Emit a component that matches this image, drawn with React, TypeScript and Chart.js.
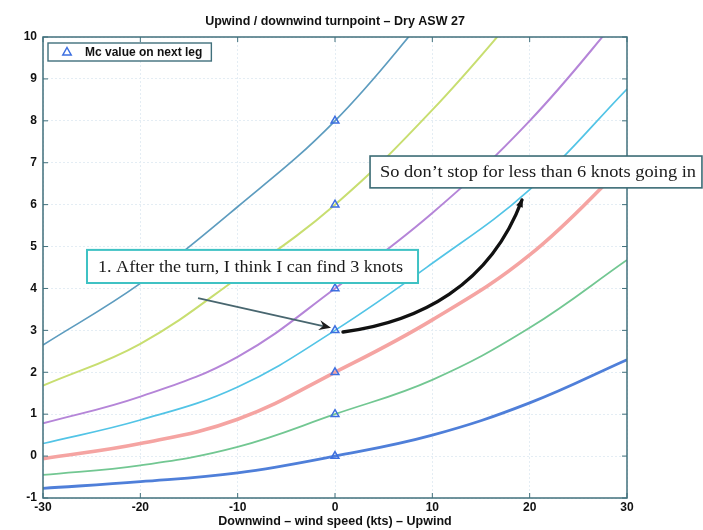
import { useEffect, useRef } from "react";
import { Chart, registerables } from "chart.js";

Chart.register(...registerables);

// ---- data ----
const windSpeeds = [-30, -20, -10, 0, 10, 20, 30];
const mcNextLeg = [0, 1, 2, 3, 4, 6, 8];
const curveMc0 = [-0.77, -0.61, -0.4, 0, 0.5, 1.27, 2.3];
const curveMc1 = [-0.45, -0.22, 0.22, 1, 1.82, 3.06, 4.68];
const curveMc2 = [-0.06, 0.3, 0.88, 2, 3.25, 4.8, 7.0];
const curveMc3 = [0.3, 0.86, 1.65, 3, 4.6, 6.36, 8.76];
const curveMc4 = [0.78, 1.42, 2.37, 4, 5.8, 8.0, 10.7];
const curveMc6 = [1.68, 2.68, 4.25, 6, 8.26, 10.9];
const curveMc8 = [2.65, 4.12, 5.95, 8, 10.67];

const titleText = "Upwind / downwind turnpoint \u2013 Dry ASW 27";
const xAxisTitle = "Downwind \u2013 wind speed (kts) \u2013 Upwind";
const legendLabel = "Mc value on next leg";
const note1Text = "1. After the turn, I think I can find 3 knots";
const note2Text = "So don\u2019t stop for less than 6 knots going in";

// ---- styles / annotation placement (data coordinates) ----
const curveStyles = [
  { data: curveMc0, color: "#4f7fd9", width: 2.8 },
  { data: curveMc1, color: "#72c792", width: 1.8 },
  { data: curveMc2, color: "#f5a4a2", width: 3.6 },
  { data: curveMc3, color: "#52c4e6", width: 1.7 },
  { data: curveMc4, color: "#b585d8", width: 2.0 },
  { data: curveMc6, color: "#c8de70", width: 2.0 },
  { data: curveMc8, color: "#5d9cbf", width: 1.7 },
];
const FRAME = "#41707c";
const MARKER = "#3d6fe0";
const annot = {
  box1: { x0: -25.48, y0: 4.92, x1: 8.53, y1: 4.13, border: "#3fc2c4", bw: 2, textW: 305, pad: 11 },
  box2: { x0: 3.6, y0: 7.16, x1: 37.7, y1: 6.4, border: "#3b6b75", bw: 1.6, textW: 316, pad: 10 },
  arrow1: { x0: -14.07, y0: 3.77, x1: -0.41, y1: 3.06 },
  arrow2: { p0: [0.82, 2.96], c1: [8.73, 3.2], c2: [15.93, 4.08], p3: [19.21, 6.11] },
};

const overlayPlugin = {
  id: "overlay",
  afterDatasetsDraw(chart: any) {
    const { ctx, chartArea: a, scales } = chart;
    const xs = scales.x;
    const ys = scales.y;
    const px = (v: number) => xs.getPixelForValue(v);
    const py = (v: number) => ys.getPixelForValue(v);
    ctx.save();

    // frame
    ctx.strokeStyle = FRAME;
    ctx.lineWidth = 1.5;
    ctx.strokeRect(a.left, a.top, a.right - a.left, a.bottom - a.top);
    // inward ticks
    ctx.lineWidth = 1;
    ctx.beginPath();
    xs.ticks.forEach((t: any) => {
      const p = px(t.value);
      ctx.moveTo(p, a.bottom);
      ctx.lineTo(p, a.bottom - 5);
      ctx.moveTo(p, a.top);
      ctx.lineTo(p, a.top + 5);
    });
    ys.ticks.forEach((t: any) => {
      const p = py(t.value);
      ctx.moveTo(a.left, p);
      ctx.lineTo(a.left + 5, p);
      ctx.moveTo(a.right, p);
      ctx.lineTo(a.right - 5, p);
    });
    ctx.stroke();

    // title
    ctx.fillStyle = "#111";
    ctx.font = 'bold 12.5px "Liberation Sans", Arial, sans-serif';
    ctx.textAlign = "center";
    ctx.textBaseline = "middle";
    ctx.fillText(titleText, (a.left + a.right) / 2, a.top - 15);

    // legend
    const lx = a.left + 5;
    const ly = a.top + 6;
    ctx.font = 'bold 12px "Liberation Sans", Arial, sans-serif';
    const tw = ctx.measureText(legendLabel).width;
    const lw = 46 + tw;
    const lh = 18;
    ctx.fillStyle = "#fff";
    ctx.fillRect(lx, ly, lw, lh);
    ctx.strokeStyle = FRAME;
    ctx.lineWidth = 1.4;
    ctx.strokeRect(lx, ly, lw, lh);
    const tx = lx + 19;
    const ty = ly + lh / 2;
    ctx.beginPath();
    ctx.moveTo(tx, ty - 4.5);
    ctx.lineTo(tx + 4.2, ty + 3);
    ctx.lineTo(tx - 4.2, ty + 3);
    ctx.closePath();
    ctx.strokeStyle = MARKER;
    ctx.lineWidth = 1.5;
    ctx.stroke();
    ctx.fillStyle = "#111";
    ctx.textAlign = "left";
    ctx.fillText(legendLabel, lx + 37, ty + 0.5);

    // arrow 1
    {
      const x0 = px(annot.arrow1.x0), y0 = py(annot.arrow1.y0);
      const x1 = px(annot.arrow1.x1), y1 = py(annot.arrow1.y1);
      const ang = Math.atan2(y1 - y0, x1 - x0);
      ctx.strokeStyle = "#48666f";
      ctx.lineWidth = 1.8;
      ctx.beginPath();
      ctx.moveTo(x0, y0);
      ctx.lineTo(x1 - 8 * Math.cos(ang), y1 - 8 * Math.sin(ang));
      ctx.stroke();
      ctx.fillStyle = "#1c1c1c";
      ctx.beginPath();
      ctx.moveTo(x1, y1);
      ctx.lineTo(x1 - 12 * Math.cos(ang) + 5 * Math.sin(ang), y1 - 12 * Math.sin(ang) - 5 * Math.cos(ang));
      ctx.lineTo(x1 - 8 * Math.cos(ang), y1 - 8 * Math.sin(ang));
      ctx.lineTo(x1 - 12 * Math.cos(ang) - 5 * Math.sin(ang), y1 - 12 * Math.sin(ang) + 5 * Math.cos(ang));
      ctx.closePath();
      ctx.fill();
    }
    // arrow 2 (curved)
    {
      const A = annot.arrow2;
      const p0 = [px(A.p0[0]), py(A.p0[1])];
      const c1 = [px(A.c1[0]), py(A.c1[1])];
      const c2 = [px(A.c2[0]), py(A.c2[1])];
      const p3 = [px(A.p3[0]), py(A.p3[1])];
      ctx.strokeStyle = "#111";
      ctx.lineWidth = 3.4;
      ctx.lineCap = "round";
      ctx.beginPath();
      ctx.moveTo(p0[0], p0[1]);
      ctx.bezierCurveTo(c1[0], c1[1], c2[0], c2[1], p3[0], p3[1]);
      ctx.stroke();
      const ang = Math.atan2(p3[1] - c2[1], p3[0] - c2[0]);
      ctx.fillStyle = "#111";
      ctx.beginPath();
      ctx.moveTo(p3[0] + 2 * Math.cos(ang), p3[1] + 2 * Math.sin(ang));
      ctx.lineTo(p3[0] - 7 * Math.cos(ang) + 3.5 * Math.sin(ang), p3[1] - 7 * Math.sin(ang) - 3.5 * Math.cos(ang));
      ctx.lineTo(p3[0] - 7 * Math.cos(ang) - 3.5 * Math.sin(ang), p3[1] - 7 * Math.sin(ang) + 3.5 * Math.cos(ang));
      ctx.closePath();
      ctx.fill();
    }

    // text boxes
    const drawBox = (b: any, text: string) => {
      const x0 = px(b.x0), y0 = py(b.y0), x1 = px(b.x1), y1 = py(b.y1);
      ctx.fillStyle = "#fff";
      ctx.fillRect(x0, y0, x1 - x0, y1 - y0);
      ctx.strokeStyle = b.border;
      ctx.lineWidth = b.bw;
      ctx.strokeRect(x0, y0, x1 - x0, y1 - y0);
      ctx.fillStyle = "#1a1a1a";
      ctx.font = '16px "Liberation Serif", "Times New Roman", serif';
      ctx.textAlign = "left";
      ctx.textBaseline = "middle";
      const w = ctx.measureText(text).width;
      const sx = b.textW / w;
      ctx.save();
      ctx.translate(x0 + b.pad, (y0 + y1) / 2 + 1);
      ctx.scale(sx, 1);
      ctx.fillText(text, 0, 0);
      ctx.restore();
    };
    drawBox(annot.box1, note1Text);
    drawBox(annot.box2, note2Text);

    ctx.restore();
  },
};

export default function App() {
  const ref = useRef<HTMLCanvasElement | null>(null);
  useEffect(() => {
    if (!ref.current) return;
    const datasets: any[] = [
      {
        label: legendLabel,
        data: mcNextLeg.map((v) => ({ x: 0, y: v })),
        showLine: false,
        pointStyle: "triangle",
        pointRadius: 4.5,
        pointBorderWidth: 1.5,
        borderColor: MARKER,
        pointBorderColor: MARKER,
        pointBackgroundColor: "rgba(255,255,255,0)",
      },
      ...curveStyles.map((c, i) => ({
        label: "Mc " + mcNextLeg[i],
        data: c.data.map((v, j) => ({ x: windSpeeds[j], y: v })),
        borderColor: c.color,
        borderWidth: c.width,
        pointRadius: 0,
        tension: 0.4,
        fill: false,
      })),
    ];
    const tickFont = { family: '"Liberation Sans", Arial, sans-serif', size: 12, weight: "bold" as const };
    const chart = new Chart(ref.current, {
      type: "line",
      data: { datasets },
      options: {
        animation: false,
        responsive: false,
        events: [],
        layout: { padding: { top: 37, right: 76, left: 0, bottom: 0 } },
        plugins: { legend: { display: false }, tooltip: { enabled: false }, title: { display: false } },
        scales: {
          x: {
            type: "linear",
            min: -30,
            max: 30,
            ticks: { stepSize: 10, font: tickFont, color: "#111", padding: 2 },
            grid: { color: "#e4edf4", drawTicks: false },
            border: { display: false, dash: [2, 2] },
            title: {
              display: true,
              text: xAxisTitle,
              font: { family: '"Liberation Sans", Arial, sans-serif', size: 12.5, weight: "bold" },
              color: "#111",
              padding: { top: 0, bottom: 1 },
            },
            afterFit: (s: any) => {
              s.height = 32;
            },
          },
          y: {
            type: "linear",
            min: -1,
            max: 10,
            ticks: { stepSize: 1, font: tickFont, color: "#111", padding: 6 },
            grid: { color: "#e4edf4", drawTicks: false },
            border: { display: false, dash: [2, 2] },
            afterFit: (s: any) => {
              s.width = 43;
            },
          },
        },
      },
      plugins: [overlayPlugin],
    } as any);
    return () => chart.destroy();
  }, []);
  return (
    <div style={{ position: "fixed", left: 0, top: 0, width: 703, height: 530, background: "#fff" }}>
      <canvas ref={ref} width={703} height={530} style={{ display: "block" }} />
    </div>
  );
}
